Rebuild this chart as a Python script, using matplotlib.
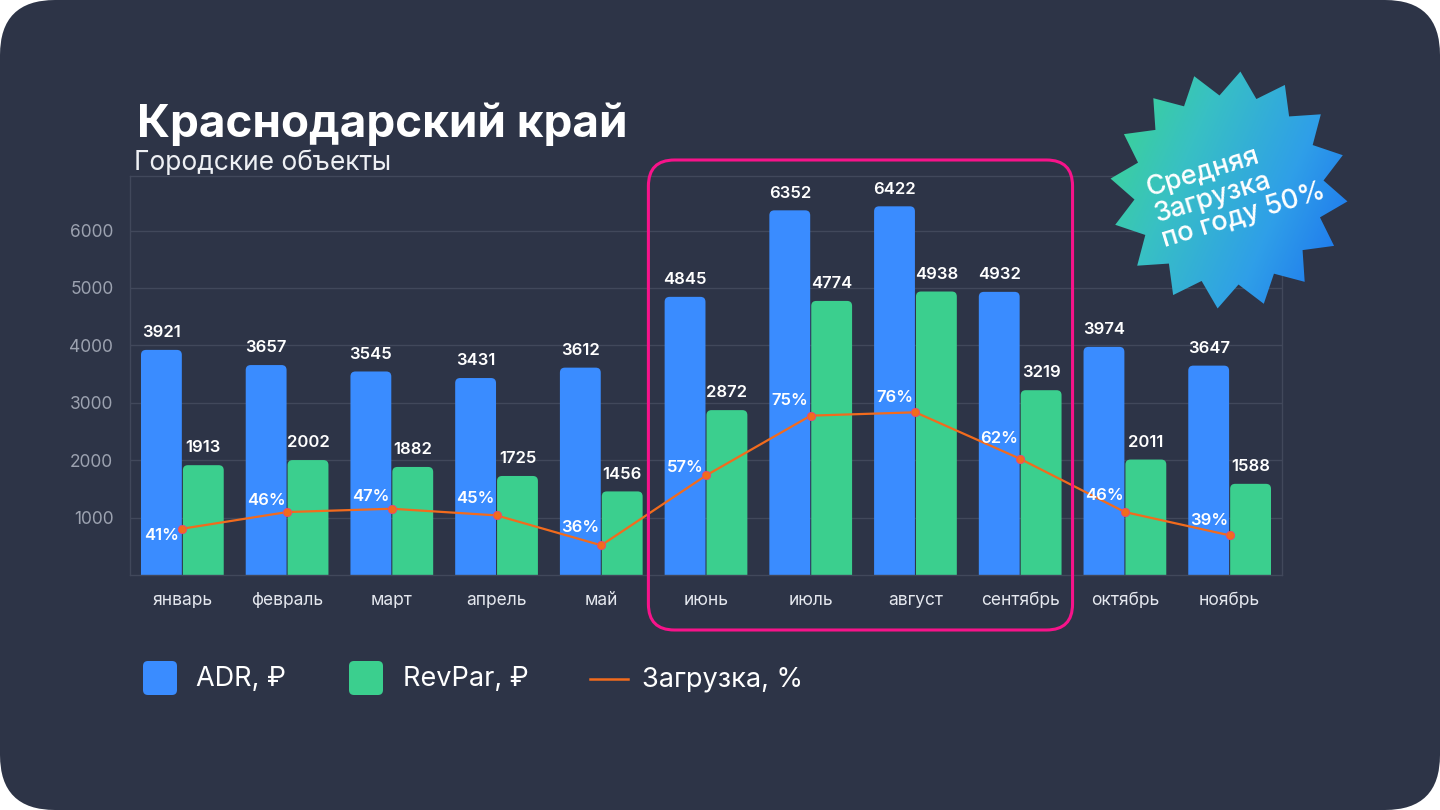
import numpy as np
import matplotlib
matplotlib.use('Agg')
import matplotlib.pyplot as plt
from matplotlib.patches import FancyBboxPatch, Polygon
from matplotlib.colors import LinearSegmentedColormap

# ---------------- data ----------------
months = ['январь', 'февраль', 'март', 'апрель', 'май', 'июнь', 'июль',
          'август', 'сентябрь', 'октябрь', 'ноябрь']
adr = [3921, 3657, 3545, 3431, 3612, 4845, 6352, 6422, 4932, 3974, 3647]
revpar = [1913, 2002, 1882, 1725, 1456, 2872, 4774, 4938, 3219, 2011, 1588]
load = [41, 46, 47, 45, 36, 57, 75, 76, 62, 46, 39]
series_names = ['ADR, ₽', 'RevPar, ₽', 'Загрузка, %']
yticks = [1000, 2000, 3000, 4000, 5000, 6000]
title = 'Краснодарский край'
subtitle = 'Городские объекты'
badge_text = 'Средняя\nЗагрузка\nпо году 50%'
highlight_months = ('июнь', 'сентябрь')

# ---------------- style ----------------
FONT = ['Inter', 'DejaVu Sans']
plt.rcParams['font.family'] = FONT
BG = '#2d3447'
GRID = '#41485b'
BLUE = '#3a8cff'
GREEN = '#3bcf8e'
ORANGE = '#f26b1d'
MAGENTA = '#f7138a'
W, H = 1440, 810
YMAX = 6950

fig = plt.figure(figsize=(14.4, 8.1), dpi=100)
fig.patch.set_facecolor('white')

# background rounded panel
bg = fig.add_axes([0, 0, 1, 1], zorder=-10)
bg.set_xlim(0, W); bg.set_ylim(H, 0); bg.axis('off')
bg.add_patch(FancyBboxPatch((0, 0), W, H, boxstyle='round,pad=0,rounding_size=55',
                            fc=BG, ec='none'))

# main axes
L, R, T, B = 130, 1282, 176, 575
ax = fig.add_axes([L / W, 1 - B / H, (R - L) / W, (B - T) / H], zorder=1)
ax.set_facecolor('none')
x = np.arange(len(months))
bw = 0.39
b1 = ax.bar(x - 0.2, adr, bw, color=BLUE)
b2 = ax.bar(x + 0.2, revpar, bw, color=GREEN)
ax.set_xlim(-0.5, len(months) - 0.5)
ax.set_ylim(0, YMAX)

px_x = (len(months)) / (R - L)       # data units per pixel (x)
px_y = YMAX / (B - T)                # data units per pixel (y)
for bars, col in ((b1, BLUE), (b2, GREEN)):
    for r in bars:
        r.set_visible(False)
        x0, w, h = r.get_x(), r.get_width(), r.get_height()
        ax.add_patch(FancyBboxPatch((x0, -400), w, h + 400,
                                    boxstyle=f'round,pad=0,rounding_size={5 * px_x}',
                                    mutation_aspect=px_y / px_x, fc=col, ec='none',
                                    zorder=2))

for bars, vals in ((b1, adr), (b2, revpar)):
    for r, v in zip(bars, vals):
        ax.annotate(str(v), (r.get_x() + r.get_width() / 2, v), xytext=(0, 7),
                    textcoords='offset points', ha='center', va='bottom',
                    color='white', fontsize=12, fontweight='semibold', zorder=5)

ax.set_yticks(yticks)
ax.set_yticklabels([str(t) for t in yticks])
ax.set_xticks(x)
ax.set_xticklabels(months)
ax.tick_params(axis='y', length=0, colors='#9ca2b0', labelsize=12.5, pad=12)
ax.tick_params(axis='x', length=0, colors='#e4e7ee', labelsize=12.5, pad=12)
for s in ax.spines.values():
    s.set_color(GRID); s.set_linewidth(1)
ax.set_axisbelow(True)
ax.grid(axis='y', color=GRID, linewidth=1)
ax.grid(axis='x', visible=False)

# load line on secondary scale
ax2 = ax.twinx()
ax2.set_ylim(27.07, 147.07)
ax2.axis('off')
ax2.plot(x, load, color=ORANGE, lw=1.6, marker='o', ms=6, mfc=ORANGE,
         mec='#e8457a', mew=0.6, zorder=4)
pct_dy = [-5, 8, 9, 12, 13, 6, 11, 11, 15, 12, 11]
for xi, v, dy in zip(x, load, pct_dy):
    ax2.annotate(f'{v}%', (xi, v), xytext=(-15, dy), textcoords='offset points',
                 ha='center', va='center', color='white', fontsize=12,
                 fontweight='semibold', zorder=6)

# overlay for decorations
ov = fig.add_axes([0, 0, 1, 1], zorder=3)
ov.set_xlim(0, W); ov.set_ylim(H, 0); ov.axis('off'); ov.set_facecolor('none')

# titles
ov.text(137, 137, title, color='white', fontsize=33, fontweight='bold',
        ha='left', va='baseline')
ov.text(134, 170, subtitle, color='#eef0f4', fontsize=19, fontweight='normal',
        ha='left', va='baseline')

# highlight box
i0, i1 = months.index(highlight_months[0]), months.index(highlight_months[1])
hx0 = L + (i0 - 0.55 + 0.5) * (R - L) / len(months)
hx1 = L + (i1 + 0.5 + 0.5) * (R - L) / len(months)
ov.add_patch(FancyBboxPatch((hx0, 160), hx1 - hx0, 470,
                            boxstyle='round,pad=0,rounding_size=26',
                            fc='none', ec=MAGENTA, lw=2.2))

# legend
ov.add_patch(FancyBboxPatch((143, 661), 34, 34, boxstyle='round,pad=0,rounding_size=5',
                            fc=BLUE, ec='none'))
ov.text(196, 679, series_names[0], color='white', fontsize=19.5, va='center', ha='left')
ov.add_patch(FancyBboxPatch((349, 661), 34, 34, boxstyle='round,pad=0,rounding_size=5',
                            fc=GREEN, ec='none'))
ov.text(403, 679, series_names[1], color='white', fontsize=19.5, va='center', ha='left')
ov.plot([590, 628], [679, 679], color=ORANGE, lw=1.8)
ov.text(642, 679, series_names[2], color='white', fontsize=19.5, va='center', ha='left')

# badge star with gradient
cx, cy = 1229, 190
n = 16
Ro, Ri = 119, 95
start = np.deg2rad(17)
ang = start + np.arange(2 * n) * np.pi / n
rad = np.where(np.arange(2 * n) % 2 == 0, Ro, Ri)
pts = np.column_stack([cx + rad * np.cos(ang), cy - rad * np.sin(ang)])
star = Polygon(pts, closed=True, fc='none', ec='none')
ov.add_patch(star)
gx, gy = np.meshgrid(np.linspace(0, 1, 300), np.linspace(0, 1, 300))
grad = (gx * 0.8 + gy * 0.35) / 1.15
cmap = LinearSegmentedColormap.from_list('g', ['#3dd88a', '#38c0c4', '#2f9fe8', '#1a6cf0'])
im = ov.imshow(grad, extent=(cx - Ro, cx + Ro, cy + Ro, cy - Ro), cmap=cmap,
               origin='upper', zorder=5, aspect='auto')
im.set_clip_path(star)
ov.set_xlim(0, W); ov.set_ylim(H, 0)
ov.text(1236, 190, badge_text, color='white', fontsize=19.5, fontweight='medium',
        rotation=17, rotation_mode='anchor', ha='center', va='center',
        multialignment='left', linespacing=1.0, zorder=6)

fig.savefig('out.png', dpi=100, facecolor=fig.get_facecolor())
